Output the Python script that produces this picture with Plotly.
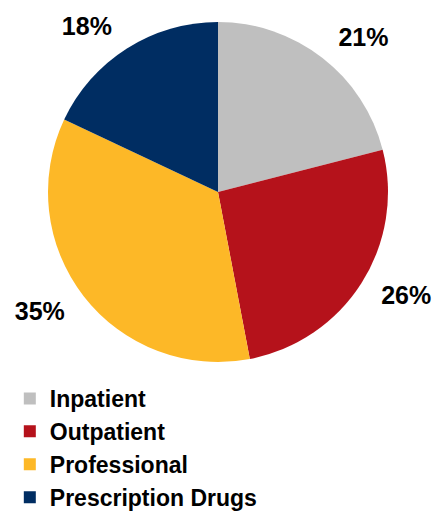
import plotly.graph_objects as go

labels = ["Inpatient", "Outpatient", "Professional", "Prescription Drugs"]
values = [21, 26, 35, 18]
colors = ["#BFBFBF", "#B5121B", "#FDB827", "#002D62"]

W, H = 446, 519
# main pie (no text)
fig = go.Figure(go.Pie(
    labels=labels,
    values=values,
    sort=False,
    direction="clockwise",
    rotation=0,
    marker=dict(colors=colors, line=dict(color="white", width=0)),
    textinfo="none",
    domain=dict(x=[48 / W, 388 / W], y=[1 - 362 / H, 1 - 22 / H]),
    hoverinfo="label+percent",
))
# slightly larger transparent pie carrying the outside labels
pad = 15
fig.add_trace(go.Pie(
    labels=labels,
    values=values,
    sort=False,
    direction="clockwise",
    rotation=0,
    marker=dict(colors=["rgba(0,0,0,0)"] * len(values), line=dict(width=0)),
    texttemplate="%{value}%",
    textposition="outside",
    textfont=dict(family="Liberation Sans", size=25, color="black", weight="bold"),
    domain=dict(x=[(48 - pad) / W, (388 + pad) / W], y=[1 - (362 + pad) / H, 1 - (22 - pad) / H]),
    showlegend=False,
    hoverinfo="skip",
))
fig.update_layout(
    width=W, height=H,
    margin=dict(l=0, r=0, t=0, b=0),
    paper_bgcolor="white",
    showlegend=True,
    legend=dict(
        x=0.022, y=0.0, xanchor="left", yanchor="bottom",
        font=dict(family="Liberation Sans", size=23, color="black", weight="bold"),
        itemwidth=30,
        traceorder="normal",
    ),
)
fig.write_html("out.html")
